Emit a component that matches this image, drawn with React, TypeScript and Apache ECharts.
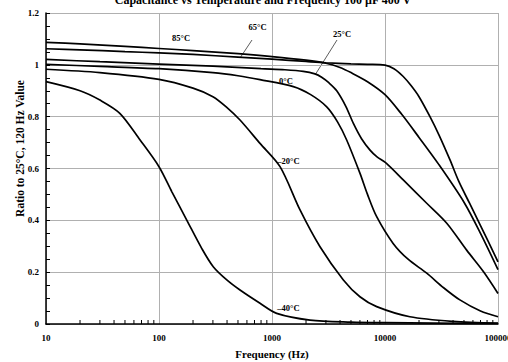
import React, { useEffect, useRef } from 'react';
import * as echarts from 'echarts';

// Frequencies (Hz) and capacitance ratio values for each temperature curve
const f85 = [10, 20, 50, 100, 200, 500, 1000, 2000, 3000, 4000, 5000, 7000, 10000, 14000, 20000, 30000, 50000, 70000, 100000];
const v85 = [1.087, 1.081, 1.071, 1.063, 1.055, 1.043, 1.032, 1.018, 1.006, 0.99, 0.97, 0.935, 0.885, 0.81, 0.72, 0.615, 0.47, 0.35, 0.21];

const f65 = [10, 20, 50, 100, 200, 500, 1000, 2000, 3000, 5000, 7000, 10000, 12000, 14500, 17000, 20000, 25000, 30000, 37600, 45000, 56000, 70000, 100000];
const v65 = [1.062, 1.058, 1.051, 1.046, 1.04, 1.03, 1.022, 1.013, 1.008, 1.004, 1.002, 0.999, 0.985, 0.955, 0.92, 0.877, 0.8, 0.73, 0.633, 0.55, 0.466, 0.38, 0.24];

const f25 = [10, 30, 100, 300, 800, 1300, 1890, 2400, 2750, 3200, 3740, 4500, 5250, 6200, 7370, 8500, 10300, 14500, 23400, 35200, 52800, 75000, 100000];
const v25 = [1.021, 1.012, 1.003, 0.995, 0.985, 0.981, 0.975, 0.965, 0.952, 0.93, 0.9, 0.84, 0.774, 0.715, 0.671, 0.645, 0.62, 0.556, 0.466, 0.389, 0.285, 0.2, 0.118];

const f0 = [10, 30, 100, 300, 500, 783, 1545, 2200, 3050, 3800, 4580, 6010, 7000, 8440, 11800, 16000, 23400, 33000, 46000, 70000, 100000];
const v0 = [1.002, 0.994, 0.985, 0.97, 0.958, 0.943, 0.916, 0.885, 0.838, 0.78, 0.71, 0.581, 0.5, 0.414, 0.311, 0.25, 0.196, 0.14, 0.093, 0.05, 0.028];

const fm20 = [10, 30, 100, 200, 300, 400, 521, 783, 1178, 1770, 2660, 4280, 6000, 8440, 16600, 40000, 100000];
const vm20 = [0.983, 0.97, 0.944, 0.91, 0.877, 0.835, 0.787, 0.697, 0.607, 0.44, 0.298, 0.17, 0.105, 0.067, 0.028, 0.01, 0.003];

const fm40 = [10, 20, 30, 45, 68, 100, 130, 176, 240, 302, 398, 521, 783, 1100, 2170, 5000, 10000, 100000];
const vm40 = [0.935, 0.9, 0.864, 0.813, 0.71, 0.607, 0.51, 0.401, 0.29, 0.221, 0.17, 0.131, 0.08, 0.041, 0.015, 0.007, 0.005, 0.002];

const xTickLabels = ['10', '100', '1000', '10000', '100000'];
const minorTickFreqs: number[] = [];
[10, 100, 1000, 10000].forEach((d) => {
  for (let k = 2; k <= 9; k++) minorTickFreqs.push(k * d);
});

const curves = [
  { name: '85°C', f: f85, v: v85 },
  { name: '65°C', f: f65, v: v65 },
  { name: '25°C', f: f25, v: v25 },
  { name: '0°C', f: f0, v: v0 },
  { name: '–20°C', f: fm20, v: vm20 },
  { name: '–40°C', f: fm40, v: vm40 },
];

const SERIF = '"Liberation Serif", "Times New Roman", serif';

export default function App() {
  const ref = useRef<HTMLDivElement>(null);
  useEffect(() => {
    if (!ref.current) return;
    const chart = echarts.init(ref.current, null, { renderer: 'svg' });
    const labelFont = { fontFamily: SERIF, fontWeight: 'bold', fontSize: 8.5, fill: '#000' };
    const option: any = {
      animation: false,
      backgroundColor: '#ffffff',
      grid: { left: 46, right: 10, top: 13, bottom: 38, containLabel: false, outerBoundsMode: 'none' },
      xAxis: {
        type: 'log',
        logBase: 10,
        min: 10,
        max: 100000,
        axisLine: { show: true, lineStyle: { color: '#000', width: 1.5 } },
        axisTick: { show: false },
        axisLabel: {
          fontFamily: SERIF,
          fontWeight: 'bold',
          fontSize: 9,
          color: '#000',
          margin: 9,
          formatter: (v: number) => {
            const s = String(Math.round(v));
            return xTickLabels.includes(s) ? s : '';
          },
        },
        splitLine: { show: true, lineStyle: { color: '#b0b0b0', width: 1 } },
        name: 'Frequency (Hz)',
        nameLocation: 'middle',
        nameGap: 24,
        nameTextStyle: { fontFamily: SERIF, fontWeight: 'bold', fontSize: 11, color: '#000' },
      },
      yAxis: {
        type: 'value',
        min: 0,
        max: 1.2,
        interval: 0.2,
        axisLine: { show: true, lineStyle: { color: '#000', width: 1.5 } },
        axisTick: { show: true, inside: true, length: 4, lineStyle: { color: '#000', width: 1 } },
        minorTick: { show: true, splitNumber: 4, length: 4, lineStyle: { color: '#000', width: 1 } },
        axisLabel: { fontFamily: SERIF, fontWeight: 'bold', fontSize: 9, color: '#000', margin: 7 },
        splitLine: { show: true, lineStyle: { color: '#b0b0b0', width: 1 } },
      },
      series: [
        ...curves.map((c) => ({
          type: 'line',
          name: c.name,
          data: c.f.map((f, i) => [f, c.v[i]]),
          showSymbol: false,
          symbol: 'none',
          smooth: 0.3,
          lineStyle: { color: '#000', width: 1.7 },
          silent: true,
          z: 3,
        })),
        {
          type: 'custom',
          data: minorTickFreqs.map((f) => [f, 0]),
          silent: true,
          clip: false,
          z: 5,
          renderItem: (params: any, api: any) => {
            const p = api.coord([api.value(0), 0]);
            return {
              type: 'line',
              shape: { x1: p[0], y1: p[1], x2: p[0], y2: p[1] - 4 },
              style: { stroke: '#000', lineWidth: 1 },
            };
          },
        },
      ],
      graphic: [
        {
          type: 'text', x: 263, y: 0,
          style: { text: 'Capacitance vs Temperature and Frequency 100 µF 400 V', fontFamily: SERIF, fontWeight: 'bold', fontSize: 12, fill: '#000', textAlign: 'center', textVerticalAlign: 'middle' },
        },
        {
          type: 'text', x: 20, y: 148.5, rotation: Math.PI / 2,
          style: { text: 'Ratio to 25°C, 120 Hz Value', fontFamily: SERIF, fontWeight: 'bold', fontSize: 11.5, fill: '#000', textAlign: 'center', textVerticalAlign: 'middle' },
        },
        { type: 'text', x: 181, y: 37.5, style: { ...labelFont, text: '85°C', textAlign: 'center', textVerticalAlign: 'middle' } },
        { type: 'text', x: 257.5, y: 26.5, style: { ...labelFont, text: '65°C', textAlign: 'center', textVerticalAlign: 'middle' } },
        { type: 'text', x: 342, y: 34, style: { ...labelFont, text: '25°C', textAlign: 'center', textVerticalAlign: 'middle' } },
        { type: 'text', x: 286, y: 81, style: { ...labelFont, text: '0°C', textAlign: 'center', textVerticalAlign: 'middle' } },
        { type: 'text', x: 288.5, y: 160.5, style: { ...labelFont, text: '–20°C', textAlign: 'center', textVerticalAlign: 'middle' } },
        { type: 'text', x: 288.5, y: 307.5, style: { ...labelFont, text: '–40°C', textAlign: 'center', textVerticalAlign: 'middle' } },
        { type: 'line', shape: { x1: 252, y1: 40, x2: 240, y2: 58 }, style: { stroke: '#333', lineWidth: 0.8 } },
        { type: 'line', shape: { x1: 337, y1: 40, x2: 315, y2: 75 }, style: { stroke: '#333', lineWidth: 0.8 } },
      ],
    };
    chart.setOption(option);
    return () => chart.dispose();
  }, []);
  return <div ref={ref} style={{ position: 'absolute', left: 0, top: 0, width: 508, height: 362, background: '#fff' }} />;
}
